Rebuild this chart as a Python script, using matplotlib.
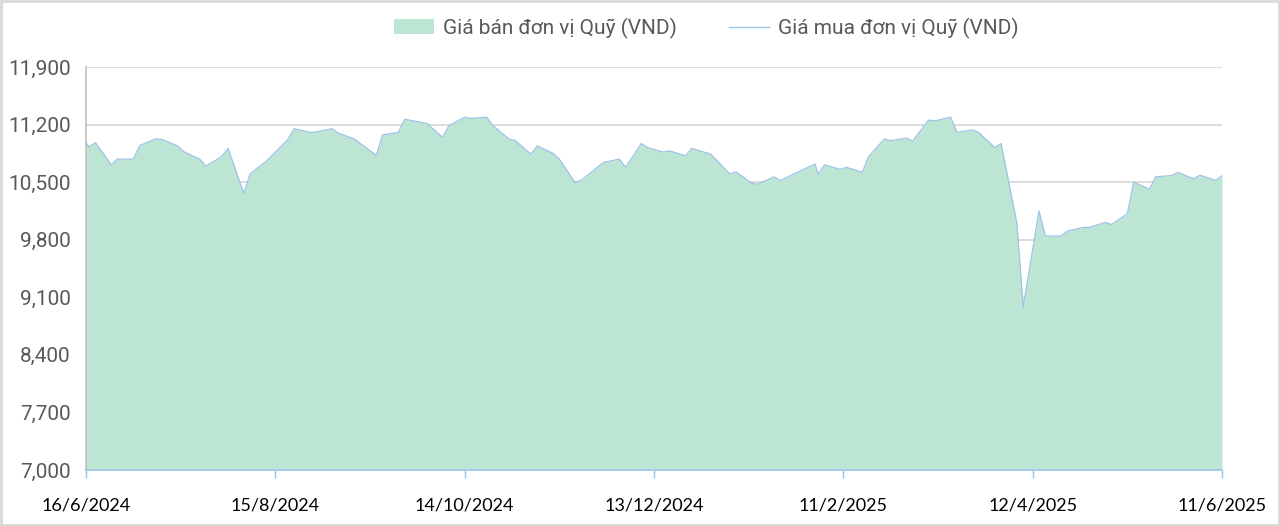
import matplotlib
matplotlib.use("Agg")
import matplotlib.pyplot as plt
from matplotlib.patches import Patch, Rectangle
from matplotlib.lines import Line2D
from matplotlib.ticker import FixedLocator, FuncFormatter
import pandas as pd

dates = [
    "2024-06-16", "2024-06-17", "2024-06-19", "2024-06-24", "2024-06-26",
    "2024-07-01", "2024-07-03", "2024-07-08", "2024-07-10", "2024-07-15",
    "2024-07-17", "2024-07-22", "2024-07-24", "2024-07-29", "2024-07-31",
    "2024-08-05", "2024-08-07", "2024-08-12", "2024-08-19", "2024-08-21",
    "2024-08-26", "2024-08-28", "2024-09-02", "2024-09-04", "2024-09-09",
    "2024-09-16", "2024-09-18", "2024-09-23", "2024-09-25", "2024-10-02",
    "2024-10-07", "2024-10-09", "2024-10-14", "2024-10-16", "2024-10-21",
    "2024-10-23", "2024-10-28", "2024-10-30", "2024-11-04", "2024-11-06",
    "2024-11-11", "2024-11-13", "2024-11-18", "2024-11-20", "2024-11-27",
    "2024-12-02", "2024-12-04", "2024-12-09", "2024-12-11", "2024-12-16",
    "2024-12-18", "2024-12-23", "2024-12-25", "2024-12-31", "2025-01-06",
    "2025-01-08", "2025-01-13", "2025-01-15", "2025-01-20", "2025-01-22",
    "2025-02-02", "2025-02-03", "2025-02-05", "2025-02-10", "2025-02-12",
    "2025-02-17", "2025-02-19", "2025-02-24", "2025-02-26", "2025-03-03",
    "2025-03-05", "2025-03-10", "2025-03-12", "2025-03-17", "2025-03-19",
    "2025-03-24", "2025-03-26", "2025-03-31", "2025-04-02", "2025-04-07",
    "2025-04-09", "2025-04-14", "2025-04-16", "2025-04-21", "2025-04-23",
    "2025-04-28", "2025-04-30", "2025-05-05", "2025-05-07", "2025-05-12",
    "2025-05-14", "2025-05-19", "2025-05-21", "2025-05-26", "2025-05-28",
    "2025-06-02", "2025-06-04", "2025-06-09", "2025-06-11",
]

sell_price = [
    10980, 10930, 10980, 10710, 10780,
    10780, 10945, 11025, 11020, 10940,
    10870, 10780, 10695, 10810, 10910,
    10365, 10600, 10750, 11020, 11150,
    11105, 11110, 11150, 11095, 11025,
    10825, 11075, 11105, 11265, 11215,
    11045, 11185, 11290, 11275, 11290,
    11185, 11025, 11005, 10840, 10940,
    10850, 10780, 10495, 10525, 10740,
    10780, 10680, 10970, 10920, 10865,
    10880, 10820, 10910, 10840, 10600,
    10625, 10485, 10475, 10565, 10520,
    10720, 10595, 10710, 10655, 10680,
    10620, 10810, 11025, 11005, 11035,
    11000, 11255, 11245, 11290, 11105,
    11135, 11100, 10920, 10970, 10000,
    8980, 10150, 9845, 9845, 9905,
    9950, 9950, 10010, 9985, 10115,
    10500, 10415, 10565, 10580, 10620,
    10540, 10585, 10520, 10580,
]
buy_price = list(sell_price)

y_ticks = [7000, 7700, 8400, 9100, 9800, 10500, 11200, 11900]
x_tick_labels = ["16/6/2024", "15/8/2024", "14/10/2024", "13/12/2024",
                 "11/2/2025", "12/4/2025", "11/6/2025"]
x_tick_dates = ["2024-06-16", "2024-08-15", "2024-10-14", "2024-12-13",
                "2025-02-11", "2025-04-12", "2025-06-11"]
series_names = ["Giá bán đơn vị Quỹ (VND)", "Giá mua đơn vị Quỹ (VND)"]

x = pd.to_datetime(dates)
xt = pd.to_datetime(x_tick_dates)

narrow = ["Roboto", "DejaVu Sans"]
fill_color = "#bde5d3"
line_color = "#9dc3e6"
grey_text = "#595959"

fig = plt.figure(figsize=(12.8, 5.26), dpi=100)
ax = fig.add_axes([86 / 1280, 56 / 526, 1136 / 1280, 403 / 526])

ax.fill_between(x, y_ticks[0], sell_price, color=fill_color, linewidth=0, zorder=2)
ax.plot(x, buy_price, color=line_color, linewidth=0.9, zorder=3)

ax.set_ylim(y_ticks[0], y_ticks[-1])
ax.set_xlim(xt[0], xt[-1])
ax.yaxis.set_major_locator(FixedLocator(y_ticks))
ax.yaxis.set_major_formatter(FuncFormatter(lambda v, p: f"{int(v):,}"))
ax.set_xticks(xt)
ax.set_xticklabels(x_tick_labels)

ax.grid(axis="y", color="#d9d9d9", linewidth=1.3, zorder=1)
ax.set_axisbelow(True)
for s in ["top", "right"]:
    ax.spines[s].set_visible(False)
ax.spines["left"].set_color("#bfbfbf")
ax.spines["left"].set_linewidth(1.2)
ax.spines["bottom"].set_color(line_color)
ax.spines["bottom"].set_linewidth(1.2)
ax.spines["bottom"].set_zorder(4)

ax.tick_params(axis="y", length=0, pad=11, labelcolor=grey_text, labelsize=15)
ax.tick_params(axis="x", length=6, width=1, color=line_color, pad=14,
               labelcolor="black", labelsize=13)
for lab in ax.get_yticklabels():
    lab.set_family(narrow)
for lab in ax.get_xticklabels():
    lab.set_family(["Lato", "DejaVu Sans"])

handles = [Patch(facecolor=fill_color, edgecolor="none"),
           Line2D([0], [0], color=line_color, linewidth=1)]
leg = fig.legend(handles, series_names, loc="center", bbox_to_anchor=(0.552, 1 - 28 / 526),
                 ncol=2, frameon=False, columnspacing=2.5, handlelength=1.92,
                 handletextpad=0.43, prop={"family": narrow, "size": 15})
for t in leg.get_texts():
    t.set_color(grey_text)

fig.patches.append(Rectangle((0.001, 0.002), 0.998, 0.996, transform=fig.transFigure,
                             fill=False, edgecolor="#d9d9d9", linewidth=2))

fig.savefig("out.png", dpi=100)
